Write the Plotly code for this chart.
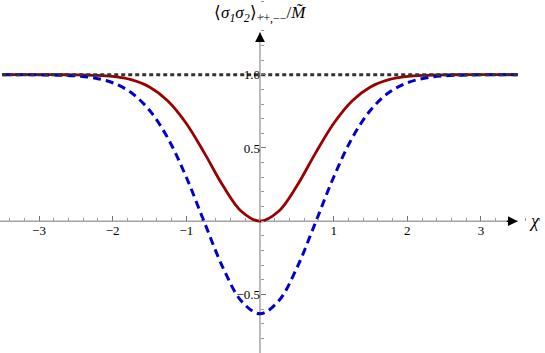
import plotly.graph_objects as go

# values
chi = [-3.5, -3.25, -3.0, -2.75, -2.5, -2.25, -2.0, -1.75, -1.5, -1.25, -1.0, -0.75, -0.5, -0.25,
       0.0, 0.25, 0.5, 0.75, 1.0, 1.25, 1.5, 1.75, 2.0, 2.25, 2.5, 2.75, 3.0, 3.25, 3.5]
red_vals = [1.0, 1.0, 1.0, 1.0, 0.999, 0.996, 0.988, 0.966, 0.916, 0.821, 0.667, 0.461, 0.240, 0.066,
            0.0, 0.066, 0.240, 0.461, 0.667, 0.821, 0.916, 0.966, 0.988, 0.996, 0.999, 1.0, 1.0, 1.0, 1.0]
blue_vals = [1.0, 1.0, 0.999, 0.997, 0.992, 0.978, 0.945, 0.878, 0.757, 0.566, 0.300, -0.014, -0.320, -0.547,
             -0.632, -0.547, -0.320, -0.014, 0.300, 0.566, 0.757, 0.878, 0.945, 0.978, 0.992, 0.997, 0.999, 1.0, 1.0]
black_vals = [1.0] * len(chi)

x_ticks = [-3, -2, -1, 1, 2, 3]
x_labels = ['\u22123', '\u22122', '\u22121', '1', '2', '3']
y_ticks = [-0.5, 0.5, 1.0]
y_labels = ['\u22120.5', '0.5', '1.0']

x_range = [-3.53, 3.87]
y_range = [-0.90, 1.51]

fig = go.Figure()
fig.add_trace(go.Scatter(x=chi, y=red_vals, mode='lines', line_shape='spline',
                         line=dict(color='#990000', width=2.8)))
fig.add_trace(go.Scatter(x=chi, y=blue_vals, mode='lines', line_shape='spline',
                         line=dict(color='#0000cc', width=3, dash='8px,5px')))
fig.add_trace(go.Scatter(x=chi, y=black_vals, mode='lines',
                         line=dict(color='#333333', width=3, dash='4px,3px')))

# axes crossing at the origin, Mathematica style
xpos = (0 - y_range[0]) / (y_range[1] - y_range[0])
ypos = (0 - x_range[0]) / (x_range[1] - x_range[0])
serif = 'Times New Roman'
tickfont = dict(family=serif, size=13, color='black')

fig.update_layout(
    width=545, height=353,
    margin=dict(l=0, r=0, t=0, b=0, autoexpand=False),
    plot_bgcolor='white', paper_bgcolor='white',
    showlegend=False,
    xaxis=dict(range=x_range, anchor='free', position=xpos, showgrid=False, zeroline=False,
               automargin=False, showline=False, tickvals=x_ticks, ticktext=x_labels,
               ticks='inside', ticklen=5, tickcolor='#777777', tickfont=tickfont,
               minor=dict(ticks='inside', dtick=0.2, tick0=0, ticklen=3, tickcolor='#999999')),
    yaxis=dict(range=y_range, anchor='free', position=ypos, showgrid=False, zeroline=False,
               automargin=False, showline=False, tickvals=y_ticks, ticktext=y_labels,
               ticks='inside', ticklen=5, tickcolor='#777777', tickfont=tickfont,
               minor=dict(ticks='inside', dtick=0.1, tick0=0, ticklen=3, tickcolor='#999999')),
)

# axis lines
fig.add_shape(type='line', x0=x_range[0], x1=3.5, y0=0, y1=0, xref='x', yref='y',
              line=dict(color='#777777', width=1), layer='below')
fig.add_shape(type='line', x0=0, x1=0, y0=y_range[0], y1=1.29, xref='x', yref='y',
              line=dict(color='#777777', width=1), layer='below')

# arrow heads
fig.add_annotation(x=3.5, y=0, ax=-14, ay=0, showarrow=True, arrowhead=2, arrowsize=1.3,
                   arrowwidth=1.5, arrowcolor='black', text=' ')
fig.add_annotation(x=0, y=1.29, ax=0, ay=14, showarrow=True, arrowhead=2, arrowsize=1.3,
                   arrowwidth=1.5, arrowcolor='black', text=' ')

# axis labels
fig.add_annotation(x=3.73, y=0, text='<i>\u03c7</i>', showarrow=False,
                   font=dict(family=serif, size=18, color='black'))
fig.add_annotation(x=0, y=1.0, yref='paper', yanchor='top', yshift=-1,
                   text='\u27e8<i>\u03c3</i><sub><i>1</i></sub><i>\u03c3</i><sub><i>2</i></sub>\u27e9'
                        '<sub>++,\u2212\u2212</sub>/<i>M\u0303</i>',
                   showarrow=False, font=dict(family=serif, size=17, color='black'))

# drop the page's default body margin so the figure sits at the window corner
fig.write_html("out.html", config={'displayModeBar': False},
               post_script="document.body.style.margin='0px';")
